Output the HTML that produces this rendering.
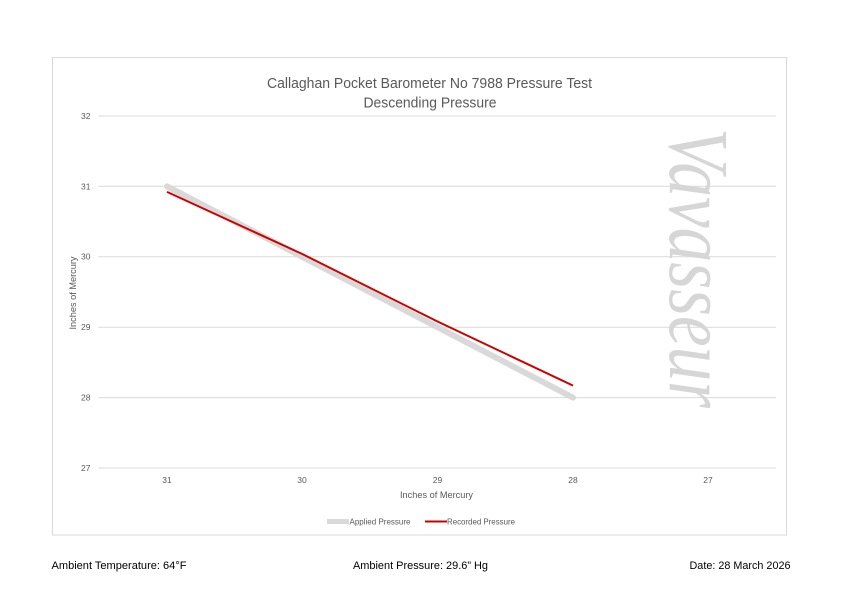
<!DOCTYPE html>
<html>
<head>
<meta charset="utf-8">
<style>
  html,body{margin:0;padding:0;background:#fff;}
  svg{display:block;}
  text{font-family:"Liberation Sans",sans-serif;}
</style>
</head>
<body>
<svg width="841" height="595" viewBox="0 0 841 595" xmlns="http://www.w3.org/2000/svg">
  <rect x="0" y="0" width="841" height="595" fill="#ffffff"/>
  <!-- chart border -->
  <rect x="52.5" y="57.5" width="734" height="477.5" fill="#ffffff" stroke="#d9d9d9" stroke-width="1"/>

  <!-- title -->
  <text x="429.5" y="88" font-size="15" fill="#595959" text-anchor="middle" textLength="325" lengthAdjust="spacingAndGlyphs">Callaghan Pocket Barometer No 7988 Pressure Test</text>
  <text x="430" y="107.5" font-size="15" fill="#595959" text-anchor="middle" textLength="133" lengthAdjust="spacingAndGlyphs">Descending Pressure</text>

  <!-- gridlines -->
  <g stroke="#d9d9d9" stroke-width="1">
    <line x1="98.5" y1="116" x2="776" y2="116"/>
    <line x1="98.5" y1="186.3" x2="776" y2="186.3"/>
    <line x1="98.5" y1="256.7" x2="776" y2="256.7"/>
    <line x1="98.5" y1="327.2" x2="776" y2="327.2"/>
    <line x1="98.5" y1="397.6" x2="776" y2="397.6"/>
    <line x1="98.5" y1="468" x2="776" y2="468"/>
  </g>

  <!-- y tick labels -->
  <g font-size="8.5" fill="#595959" text-anchor="end">
    <text x="90.5" y="119">32</text>
    <text x="90.5" y="189.3">31</text>
    <text x="90.5" y="259.7">30</text>
    <text x="90.5" y="330.2">29</text>
    <text x="90.5" y="400.6">28</text>
    <text x="90.5" y="471">27</text>
  </g>

  <!-- x tick labels -->
  <g font-size="8.5" fill="#595959" text-anchor="middle">
    <text x="167" y="483">31</text>
    <text x="302" y="483">30</text>
    <text x="437.5" y="483">29</text>
    <text x="573" y="483">28</text>
    <text x="708" y="483">27</text>
  </g>

  <!-- axis titles -->
  <text x="436.5" y="498" font-size="9.5" fill="#595959" text-anchor="middle" textLength="73" lengthAdjust="spacingAndGlyphs">Inches of Mercury</text>
  <text transform="translate(76,293) rotate(-90)" x="0" y="0" font-size="9.5" fill="#595959" text-anchor="middle" textLength="73" lengthAdjust="spacingAndGlyphs">Inches of Mercury</text>

  <!-- watermark -->
  <text transform="translate(670,128) rotate(90)" x="0" y="0" style="font-family:'Liberation Serif',serif;font-style:italic;font-size:86px;" fill="#d6d6d6" textLength="280" lengthAdjust="spacingAndGlyphs">Vavasseur</text>

  <!-- series -->
  <polyline points="167,186.3 302,256.7 437.5,327.2 573,397.6" fill="none" stroke="#d9d9d9" stroke-width="6" stroke-linecap="round" stroke-linejoin="round"/>
  <polyline points="167,191.9 302,253.9 437.5,321.5 573,385.6" fill="none" stroke="#cc0000" stroke-width="2" stroke-linejoin="round"/>

  <!-- legend -->
  <line x1="327" y1="521.5" x2="349" y2="521.5" stroke="#d9d9d9" stroke-width="5"/>
  <text x="349.5" y="524.5" font-size="8.5" fill="#595959" textLength="61" lengthAdjust="spacingAndGlyphs">Applied Pressure</text>
  <line x1="425" y1="521.5" x2="447" y2="521.5" stroke="#cc0000" stroke-width="2"/>
  <text x="447" y="524.5" font-size="8.5" fill="#595959" textLength="68" lengthAdjust="spacingAndGlyphs">Recorded Pressure</text>

  <!-- footer -->
  <text x="51.5" y="569" font-size="11" fill="#000000" textLength="135" lengthAdjust="spacingAndGlyphs">Ambient Temperature: 64°F</text>
  <text x="353" y="569" font-size="11" fill="#000000" textLength="135" lengthAdjust="spacingAndGlyphs">Ambient Pressure: 29.6” Hg</text>
  <text x="689.5" y="569" font-size="11" fill="#000000" textLength="101" lengthAdjust="spacingAndGlyphs">Date: 28 March 2026</text>
</svg>
</body>
</html>
